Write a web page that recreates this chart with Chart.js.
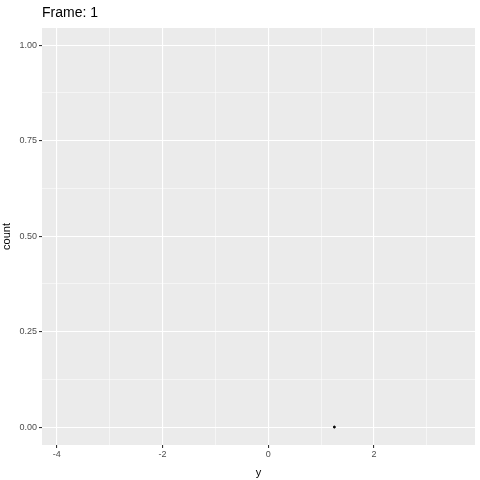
<!DOCTYPE html>
<html><head><script src="https://cdn.jsdelivr.net/npm/chart.js"></script>
<style>body{margin:0;background:#fff}canvas{display:block}</style></head>
<body><canvas id="c" width="480" height="480"></canvas>
<script>
const frameLabel = "Frame: 1";
const xValues = [1.25];
const yValues = [0];
const xTicks = [-4,-3,-2,-1,0,1,2,3];
const xLabeled = [-4,-2,0,2];
const yTicks = [0,0.125,0.25,0.375,0.5,0.625,0.75,0.875,1];
const yLabeled = [0,0.25,0.5,0.75,1];

const bg = {id:'bg',beforeDraw(c){const a=c.chartArea,x=c.ctx;x.save();x.fillStyle='#EBEBEB';x.fillRect(a.left,a.top,a.right-a.left,a.bottom-a.top);
x.fillStyle='#000';x.font='14px "Liberation Sans", Arial';x.textBaseline='alphabetic';x.fillText(frameLabel,a.left,17);x.restore();}};
const isMajor=(v,arr)=>arr.some(t=>Math.abs(t-v)<1e-9);
new Chart(document.getElementById('c'),{
type:'scatter',
data:{datasets:[{data:xValues.map((v,i)=>({x:v,y:yValues[i]})),pointRadius:1,backgroundColor:'#000',borderColor:'#000'}]},
options:{responsive:false,animation:false,events:[],
layout:{padding:{top:28,right:5,left:0,bottom:0}},
plugins:{legend:{display:false},tooltip:{enabled:false}},
scales:{
x:{type:'linear',min:-4.28,max:3.91,
afterBuildTicks(s){s.ticks=xTicks.map(v=>({value:v}));},
afterFit(s){s.height=35;},
grid:{color:'#fff',lineWidth:c=>isMajor(c.tick.value,xLabeled)?1.1:0.5,drawTicks:true,tickColor:c=>isMajor(c.tick.value,xLabeled)?'#333':'rgba(0,0,0,0)',tickLength:3},
border:{display:false},
ticks:{color:'#4D4D4D',font:{size:9,family:'"Liberation Sans", Arial'},padding:1,maxRotation:0,autoSkip:false,callback:v=>isMajor(v,xLabeled)?String(v):''},
title:{display:true,text:'y',color:'#000',font:{size:11,family:'"Liberation Sans", Arial'},padding:{top:0,bottom:0}}},
y:{type:'linear',min:-0.047,max:1.045,
afterBuildTicks(s){s.ticks=yTicks.map(v=>({value:v}));},
afterFit(s){s.width=42;},
grid:{color:'#fff',lineWidth:c=>isMajor(c.tick.value,yLabeled)?1.1:0.5,tickColor:c=>isMajor(c.tick.value,yLabeled)?'#333':'rgba(0,0,0,0)',tickLength:3},
border:{display:false},
ticks:{color:'#4D4D4D',font:{size:9,family:'"Liberation Sans", Arial'},padding:2,autoSkip:false,callback:v=>isMajor(v,yLabeled)?v.toFixed(2):''},
title:{display:true,text:'count',color:'#000',font:{size:11,family:'"Liberation Sans", Arial'},padding:{top:0,bottom:2}}}
}},plugins:[bg]});
</script></body></html>
